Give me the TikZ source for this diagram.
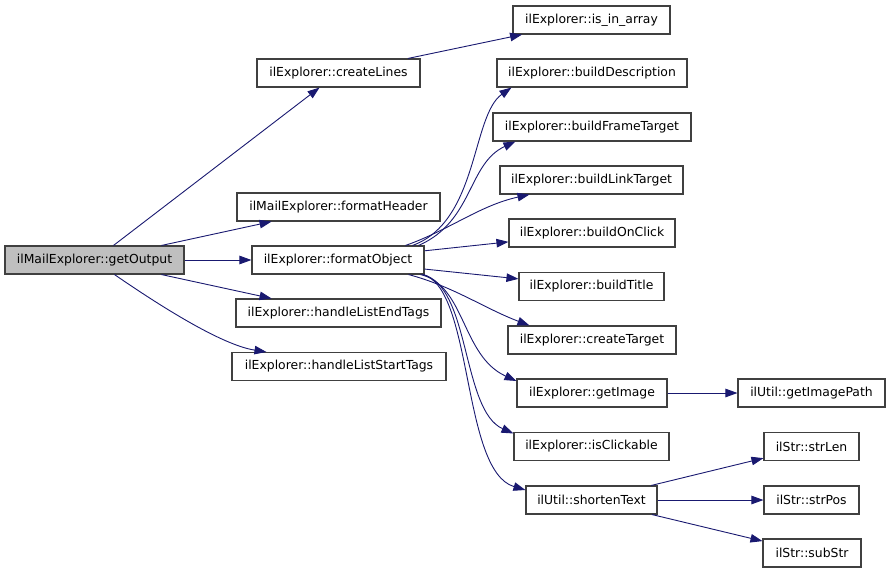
\documentclass[tikz,border=0pt]{standalone}
\usepackage{fontspec}
\setmainfont{DejaVu Sans}
\usetikzlibrary{arrows.meta,calc}
\definecolor{edgeblue}{HTML}{191970}
\definecolor{boxline}{HTML}{404040}
\definecolor{rootfill}{HTML}{BFBFBF}
\tikzset{
  fn/.style={draw=boxline, line width=1.1pt, fill=white, inner sep=0pt, minimum height=28pt, font=\fontsize{12.4}{14}\selectfont},
  rootfn/.style={fn, fill=rootfill},
  call/.style={draw=edgeblue, line width=0.9pt, -{Triangle[length=12pt,width=8.5pt]}, fill=none},
}
\begin{document}
\begin{tikzpicture}[x=1pt,y=-1pt]
\useasboundingbox (0,0) rectangle (891,573);
% nodes
\node[rootfn, minimum width=179pt] (go) at (94.5,260) {ilMailExplorer::getOutput};
\node[fn, minimum width=163pt] (cl) at (338.5,73) {ilExplorer::createLines};
\node[fn, minimum width=203pt] (fh) at (338.5,207) {ilMailExplorer::formatHeader};
\node[fn, minimum width=172pt] (fo) at (338,260) {ilExplorer::formatObject};
\node[fn, minimum width=205pt] (hle) at (338.5,313) {ilExplorer::handleListEndTags};
\node[fn, minimum width=214pt] (hls) at (339,366.5) {ilExplorer::handleListStartTags};
\node[fn, minimum width=157pt] (iia) at (591.5,20) {ilExplorer::is\_in\_array};
\node[fn, minimum width=190pt] (bd) at (592,73) {ilExplorer::buildDescription};
\node[fn, minimum width=198pt] (bft) at (592,127) {ilExplorer::buildFrameTarget};
\node[fn, minimum width=183pt] (blt) at (591.5,180) {ilExplorer::buildLinkTarget};
\node[fn, minimum width=166pt] (boc) at (592,233) {ilExplorer::buildOnClick};
\node[fn, minimum width=145pt] (bt) at (591.5,286.5) {ilExplorer::buildTitle};
\node[fn, minimum width=168pt] (ct) at (592,340) {ilExplorer::createTarget};
\node[fn, minimum width=150pt] (gi) at (592,393) {ilExplorer::getImage};
\node[fn, minimum width=147pt] (gip) at (811.5,393) {ilUtil::getImagePath};
\node[fn, minimum width=155pt] (ic) at (591.5,446.5) {ilExplorer::isClickable};
\node[fn, minimum width=131pt] (st) at (591.5,500) {ilUtil::shortenText};
\node[fn, minimum width=95pt] (sl) at (811.5,446.5) {ilStr::strLen};
\node[fn, minimum width=95pt] (sp) at (811.5,500) {ilStr::strPos};
\node[fn, minimum width=98pt] (ss) at (812,553) {ilStr::subStr};
% edges from getOutput
\draw[call] (go) -- (cl);
\draw[call] (go) -- (fh);
\draw[call] (go) -- (fo);
\draw[call] (go) -- (hle);
\draw[call] ($(go.south)+(20,0)$) .. controls +(45,31) and +(-45,-7) .. ($(hls.north west)+(35,0)$);
% createLines
\draw[call] (cl) -- (iia);
% formatObject fan
\draw[call] ($(fo.north east)+(-12,0)$) .. controls +(66,-24) and +(-40,28) .. ($(bd.south west)+(15,0)$);
\draw[call] ($(fo.north east)+(-6,0)$) .. controls +(55,-24) and +(-48,22) .. ($(bft.south west)+(23,0)$);
\draw[call] ($(fo.north east)+(-19,0)$) .. controls +(45,-16) and +(-50,11) .. ($(blt.south west)+(30,0)$);
\draw[call] (fo) -- (boc);
\draw[call] (fo) -- (bt);
\draw[call] ($(fo.south east)+(-16,0)$) .. controls +(45,12) and +(-45,-17) .. ($(ct.north west)+(22,0)$);
\draw[call] ($(fo.south east)+(-4,0)$) .. controls +(45,11) and +(-55,-25) .. ($(gi.west)+(0,-12)$);
\draw[call] ($(fo.south east)+(-2,0)$) .. controls +(48,11) and +(-52,-23) .. ($(ic.west)+(0,-13)$);
\draw[call] ($(fo.south east)+(-1,0)$) .. controls +(50,16) and +(-64,-19) .. ($(st.west)+(0,-10)$);
% getImage
\draw[call] (gi) -- (gip);
% shortenText
\draw[call] (st) -- (sl);
\draw[call] (st) -- (sp);
\draw[call] (st) -- (ss);
\end{tikzpicture}
\end{document}
